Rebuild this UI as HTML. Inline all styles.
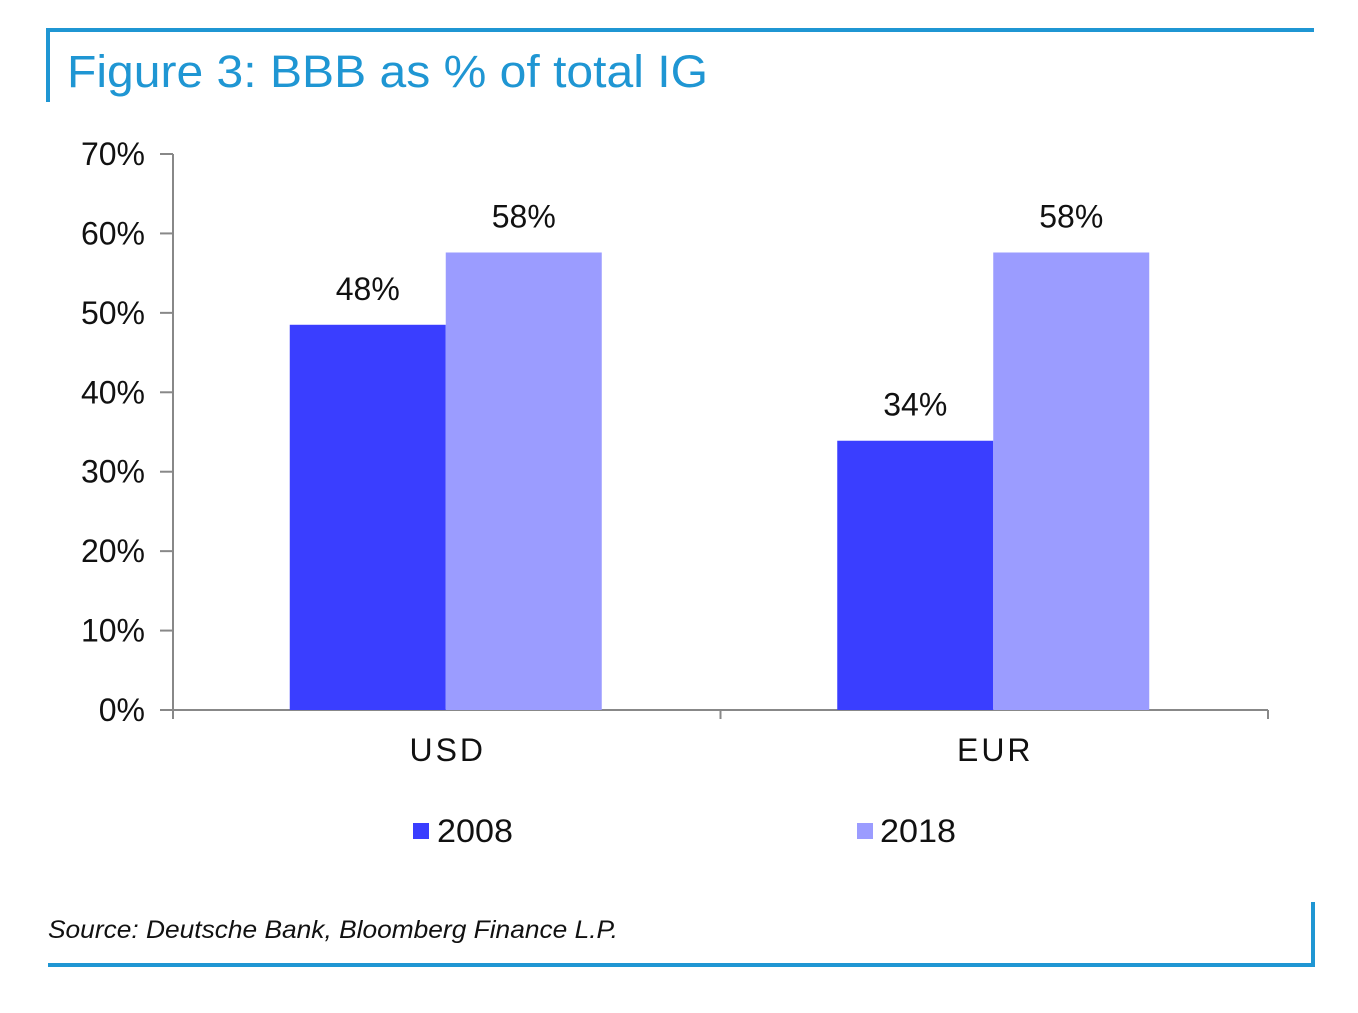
<!DOCTYPE html>
<html><head><meta charset="utf-8"><style>
body{margin:0;background:#fff;width:1358px;height:1008px;overflow:hidden;font-family:"Liberation Sans",sans-serif;}
</style></head><body>
<svg width="1358" height="1008" xmlns="http://www.w3.org/2000/svg">
<rect x="47" y="28" width="1267" height="4" fill="#1f96d3"/>
<rect x="46" y="28" width="4" height="74" fill="#1f96d3"/>
<text x="67" y="87" font-size="45" fill="#1f96d3" textLength="641" lengthAdjust="spacingAndGlyphs">Figure 3: BBB as % of total IG</text>
<g id="chart"></g>
<rect x="413" y="823" width="16" height="16" fill="#3a3eff"/>
<text x="437" y="842" font-size="32" fill="#111" textLength="76" lengthAdjust="spacingAndGlyphs">2008</text>
<rect x="857" y="823" width="16" height="16" fill="#9b9cff"/>
<text x="880" y="842" font-size="32" fill="#111" textLength="76" lengthAdjust="spacingAndGlyphs">2018</text>
<text x="48" y="938" font-size="25" font-style="italic" fill="#111" textLength="570" lengthAdjust="spacingAndGlyphs">Source: Deutsche Bank, Bloomberg Finance L.P.</text>
<rect x="48" y="963" width="1267" height="4" fill="#1f96d3"/>
<rect x="1311" y="902" width="4" height="65" fill="#1f96d3"/>
</svg>
<script>
const categories=["USD","EUR"];
const series2008=[48.5,33.9];
const series2018=[57.6,57.6];
const labels2008=["48%","34%"];
const labels2018=["58%","58%"];
const yTicks=[0,10,20,30,40,50,60,70];
const NS="http://www.w3.org/2000/svg";
const g=document.getElementById('chart');
const x0=173,x1=1268,y0=710,yTop=154,ymax=70;
const y=v=>y0-(v/ymax)*(y0-yTop);
const catW=(x1-x0)/categories.length;
const barW=156;
function mk(t,a){const e=document.createElementNS(NS,t);for(const k in a)e.setAttribute(k,a[k]);g.appendChild(e);return e;}
let ax=mk('line',{x1:x0,y1:yTop,x2:x0,y2:y0,stroke:'#888','stroke-width':2});


let xa=mk('line',{x1:x0,y1:y0,x2:x1,y2:y0,stroke:'#888','stroke-width':2});


yTicks.forEach(v=>{
 let t=mk('line',{x1:x0-13,y1:y(v),x2:x0,y2:y(v),stroke:'#888','stroke-width':2});
 
 
 let l=mk('text',{x:x0-28,y:y(v)+11,'font-size':32,'text-anchor':'end',fill:'#111'});
 l.textContent=v+'%';
 
 
});
for(let i=0;i<=categories.length;i++){
 let t=mk('line',{x1:x0+i*catW,y1:y0,x2:x0+i*catW,y2:y0+9,stroke:'#888','stroke-width':2});
 
 
}
categories.forEach((c,i)=>{
 const cx=x0+catW*(i+0.5)-1;
 [[series2008,labels2008,'#3a3eff',cx-barW,'2008'],[series2018,labels2018,'#9b9cff',cx,'2018']].forEach(([s,lb,col,bx,nm])=>{
  let r=mk('rect',{x:bx,y:y(s[i]),width:barW,height:y0-y(s[i]),fill:col});
  
  
  let t=mk('text',{x:bx+barW/2,y:y(s[i])-25,'font-size':32,'text-anchor':'middle',fill:'#111'});
  t.textContent=lb[i];
  
  
 });
 let cl=mk('text',{x:cx+2,y:761,'font-size':32,'text-anchor':'middle',fill:'#111','letter-spacing':3});
 cl.textContent=c;
 
 
});
</script>
</body></html>
